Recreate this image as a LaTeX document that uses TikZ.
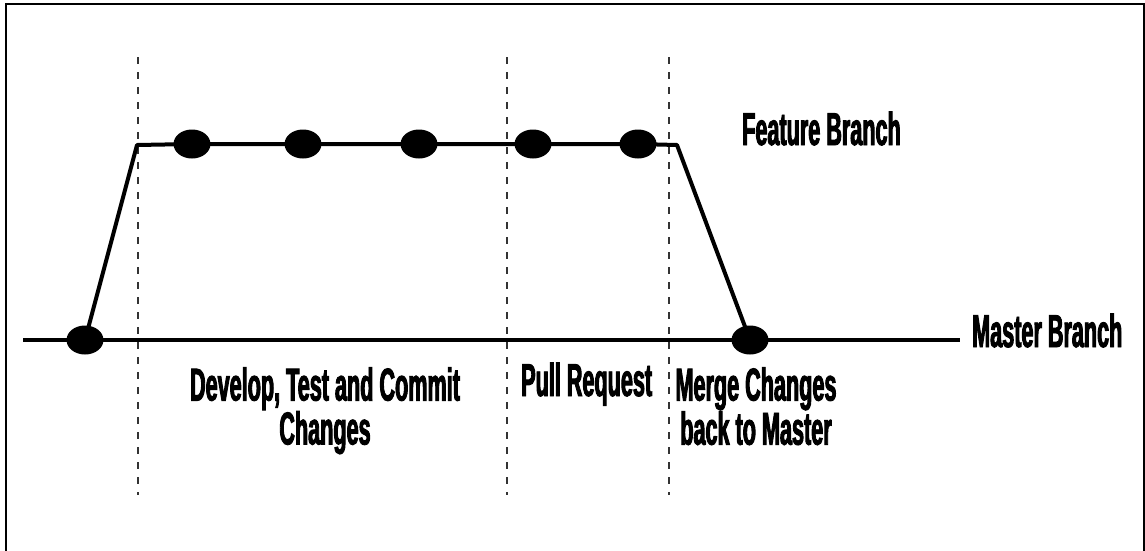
\documentclass[tikz,border=0pt]{standalone}
\usepackage{fontspec}
\newfontfamily\labelfont{Liberation Sans}[FakeStretch=0.47,FakeBold=2]
\usetikzlibrary{shapes.geometric}

\tikzset{
  commit/.style={ellipse, fill=black, draw=none, inner sep=0pt,
                 minimum width=37pt, minimum height=29pt},
  branch/.style={line width=4pt, line join=round},
  phase/.style={line width=1.8pt, dash pattern=on 7pt off 8pt, black!80},
  frameline/.style={line width=2.6pt},
  label/.style={inner sep=0pt, font=\labelfont\bfseries\fontsize{46}{37}\selectfont},
}

\begin{document}
\begin{tikzpicture}[x=1pt, y=-1pt]
  \useasboundingbox (0,0) rectangle (1145,550);

  % outer frame, open at the bottom edge
  \draw[frameline] (6,560) -- (6,4) -- (1144,4) -- (1144,560);

  % phase separators
  \coordinate (s1t) at (138,57);  \coordinate (s1b) at (138,495);
  \coordinate (s2t) at (507,57);  \coordinate (s2b) at (507,495);
  \coordinate (s3t) at (669,57);  \coordinate (s3b) at (669,495);
  \draw[phase] (s1t) -- (s1b);
  \draw[phase] (s2t) -- (s2b);
  \draw[phase] (s3t) -- (s3b);

  % commits
  \node[commit] (m1) at (85,340) {};
  \node[commit] (m2) at (750,340) {};
  \node[commit] (f1) at (192,144) {};
  \node[commit] (f2) at (303,144) {};
  \node[commit] (f3) at (419,144) {};
  \node[commit] (f4) at (533,144) {};
  \node[commit] (f5) at (638,144) {};

  % branch ends and corners
  \coordinate (mstart) at (23,340);
  \coordinate (mend)   at (960,340);
  \coordinate (fup)    at (137,145);
  \coordinate (fdown)  at (677,145);

  % master branch
  \draw[branch] (mstart) -- (m1.center) -- (m2.center) -- (mend);
  % feature branch
  \draw[branch] (m1.center) -- (fup) -- (f1.center) -- (f2.center) -- (f3.center)
     -- (f4.center) -- (f5.center) -- (fdown) -- (m2.center);

  % labels
  \node[label, anchor=base west] (lf) at (742,145) {Feature Branch};
  \node[label, anchor=base west] (lm) at (972,347) {Master Branch};
  \node[label, anchor=north, align=center] (ld) at (325,367) {Develop, Test and Commit\\Changes};
  \node[label, anchor=base west] (lp) at (521,396) {Pull Request};
  \node[label, anchor=north, align=center] (lr) at (756,367) {Merge Changes\\back to Master};
\end{tikzpicture}
\end{document}
